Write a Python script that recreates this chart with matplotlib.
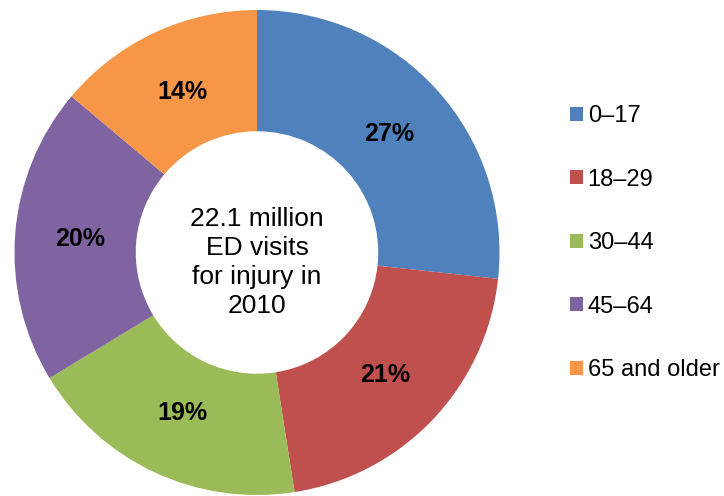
import matplotlib
matplotlib.use("Agg")
import matplotlib.pyplot as plt
from matplotlib.patches import Patch
import math

categories = ["0\u201317", "18\u201329", "30\u201344", "45\u201364", "65 and older"]
values = [27, 21, 19, 20, 14]
colors = ["#4F81BD", "#C0504D", "#9BBB59", "#8064A2", "#F79646"]
center_text = "22.1 million\nED visits\nfor injury in\n2010"

plt.rcParams['font.family'] = ['Liberation Sans', 'DejaVu Sans']

W, H = 724, 496
fig = plt.figure(figsize=(W / 100, H / 100), dpi=100)
cx, cy, r = 257, 252.5, 242.5
ax = fig.add_axes([(cx - r) / W, (H - cy - r) / H, 2 * r / W, 2 * r / H])
wedges, texts = ax.pie(values, colors=colors, startangle=90, counterclock=False,
                       radius=1, wedgeprops=dict(width=0.5, linewidth=0))
total = sum(values)
ang = 90.0
for v in values:
    span = v / total * 360
    mid = math.radians(ang - span / 2)
    ax.text(0.73 * math.cos(mid), 0.73 * math.sin(mid), f"{v}%",
            ha="center", va="center", fontsize=18, fontweight="bold", color="black")
    ang -= span
ax.text(0, -0.04, center_text, ha="center", va="center", fontsize=19, linespacing=1.27)
ax.set_xlim(-1, 1)
ax.set_ylim(-1, 1)
ax.set_aspect("equal")
ax.axis("off")

handles = [Patch(facecolor=c, edgecolor="none") for c in colors]
leg = fig.legend(handles, categories, loc="upper left", bbox_to_anchor=(570 / W, 1 - 105 / H),
                 frameon=False, fontsize=17, handlelength=0.55, handleheight=0.55,
                 handletextpad=0.2, labelspacing=1.76, borderpad=0, borderaxespad=0)

fig.savefig("out.png", dpi=100)
